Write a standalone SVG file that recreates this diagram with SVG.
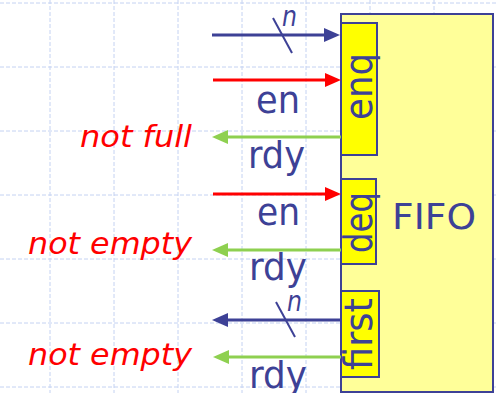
<svg xmlns="http://www.w3.org/2000/svg" width="496" height="393" viewBox="0 0 496 393">
<style>
.grid{stroke:#c4d2f2;stroke-width:1;stroke-dasharray:4 2;fill:none}
.box{stroke:#3d4196;stroke-width:2}
.lbl{font-family:"DejaVu Sans",Verdana,sans-serif;fill:#3d4196}
.it{font-family:"DejaVu Sans",Verdana,sans-serif;font-style:italic;fill:#ff0000}
.blue{stroke:#3d4196;stroke-width:3;fill:none}
.red{stroke:#ff0000;stroke-width:3;fill:none}
.green{stroke:#8ed050;stroke-width:3;fill:none}
</style>
<defs>
<marker id="ab" markerUnits="userSpaceOnUse" markerWidth="16" markerHeight="14" refX="4" refY="7" orient="auto"><path d="M0,0 L16,7 L0,14 z" fill="#3d4196"/></marker>
<marker id="ar" markerUnits="userSpaceOnUse" markerWidth="16" markerHeight="14" refX="4" refY="7" orient="auto"><path d="M0,0 L16,7 L0,14 z" fill="#ff0000"/></marker>
<marker id="ag" markerUnits="userSpaceOnUse" markerWidth="16" markerHeight="14" refX="4" refY="7" orient="auto"><path d="M0,0 L16,7 L0,14 z" fill="#8ed050"/></marker>
</defs>
<rect width="496" height="393" fill="#ffffff"/>
<g id="grid">
<path class="grid" d="M50,0V393M114,0V393M178,0V393M242,0V393M306,0V393M370,0V393M434,0V393M0,3H496M0,67H496M0,131H496M0,195H496M0,259H496M0,323H496M0,387H496"/>
</g>
<g id="fifo">
<rect class="box" x="341" y="14" width="152" height="378" fill="#ffff99"/>
<text class="lbl" x="392" y="229" font-size="36" textLength="84" lengthAdjust="spacingAndGlyphs">FIFO</text>
</g>
<g id="enq">
<rect class="box" x="341" y="23" width="36" height="132" fill="#ffff00"/>
<text class="lbl" x="372" y="86.5" font-size="39" text-anchor="middle" textLength="67" lengthAdjust="spacingAndGlyphs" transform="rotate(-90 372 86.5)">enq</text>
</g>
<g id="deq">
<rect class="box" x="341" y="179" width="35" height="85" fill="#ffff00"/>
<text class="lbl" x="372" y="222.5" font-size="39" text-anchor="middle" textLength="61" lengthAdjust="spacingAndGlyphs" transform="rotate(-90 372 222.5)">deq</text>
</g>
<g id="first">
<rect class="box" x="341" y="291" width="38" height="86" fill="#ffff00"/>
<text class="lbl" x="372" y="334" font-size="39" text-anchor="middle" textLength="72" lengthAdjust="spacingAndGlyphs" transform="rotate(-90 372 334)">first</text>
</g>
<g id="connectors">
<path class="blue" d="M212,35 L328,35" marker-end="url(#ab)"/>
<path class="blue" d="M273,18 L292,53" style="stroke-width:2"/>
<path class="red" d="M213,80 L329,80" marker-end="url(#ar)"/>
<path class="green" d="M341,137 L224,137" marker-end="url(#ag)"/>
<path class="red" d="M213,194 L329,194" marker-end="url(#ar)"/>
<path class="green" d="M341,250 L224,250" marker-end="url(#ag)"/>
<path class="blue" d="M341,320 L224,320" marker-end="url(#ab)"/>
<path class="blue" d="M276,302 L295,337" style="stroke-width:2"/>
<path class="green" d="M341,357 L225,357" marker-end="url(#ag)"/>
</g>
<g id="labels">
<text class="lbl" x="282" y="26" font-size="28" font-style="italic" textLength="15" lengthAdjust="spacingAndGlyphs">n</text>
<text class="lbl" x="287" y="311" font-size="28" font-style="italic" textLength="15" lengthAdjust="spacingAndGlyphs">n</text>
<text class="lbl" x="256" y="113" font-size="38" textLength="44" lengthAdjust="spacingAndGlyphs">en</text>
<text class="lbl" x="248" y="168" font-size="38" textLength="57" lengthAdjust="spacingAndGlyphs">rdy</text>
<text class="lbl" x="257" y="225" font-size="38" textLength="43" lengthAdjust="spacingAndGlyphs">en</text>
<text class="lbl" x="249" y="280" font-size="38" textLength="58" lengthAdjust="spacingAndGlyphs">rdy</text>
<text class="lbl" x="249" y="388" font-size="38" textLength="58" lengthAdjust="spacingAndGlyphs">rdy</text>
<text class="it" x="192" y="147" font-size="31" text-anchor="end" textLength="112" lengthAdjust="spacingAndGlyphs">not full</text>
<text class="it" x="192" y="254" font-size="31" text-anchor="end" textLength="164" lengthAdjust="spacingAndGlyphs">not empty</text>
<text class="it" x="192" y="365" font-size="31" text-anchor="end" textLength="164" lengthAdjust="spacingAndGlyphs">not empty</text>
</g>
</svg>
